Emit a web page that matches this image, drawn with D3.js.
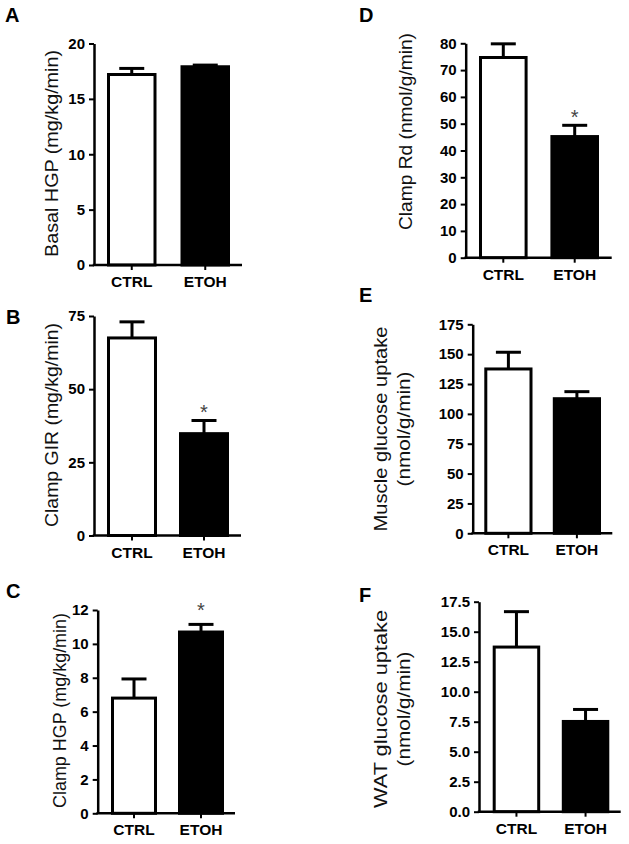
<!DOCTYPE html>
<html><head><meta charset="utf-8">
<script src="https://cdn.jsdelivr.net/npm/d3@7"></script>
<style>body{margin:0;background:#fff}svg{display:block}</style>
</head><body>
<svg id="c" width="629" height="844"></svg>
<script>
// ---------- data ----------
const categories = ["CTRL", "ETOH"];
const panelLetters = ["A", "B", "C", "D", "E", "F"];

const meansA = [17.2, 17.9],  semA = [0.55, 0.15];
const meansB = [67.5, 34.8],  semB = [5.5, 4.5];
const meansC = [6.8, 10.7],   semC = [1.13, 0.45];
const meansD = [74.7, 45.2],  semD = [5.1, 4.2];
const meansE = [137.6, 112.7], semE = [14.0, 5.9];
const meansF = [13.72, 7.52], semF = [2.95, 1.0];

const ticksA = [0, 5, 10, 15, 20];
const ticksB = [0, 25, 50, 75];
const ticksC = [0, 2, 4, 6, 8, 10, 12];
const ticksD = [0, 10, 20, 30, 40, 50, 60, 70, 80];
const ticksE = [0, 25, 50, 75, 100, 125, 150, 175];
const ticksF = [0, 2.5, 5, 7.5, 10, 12.5, 15, 17.5];

const titleA = ["Basal HGP (mg/kg/min)"];
const titleB = ["Clamp GIR (mg/kg/min)"];
const titleC = ["Clamp HGP (mg/kg/min)"];
const titleD = ["Clamp Rd (nmol/g/min)"];
const titleE = ["Muscle glucose uptake", "(nmol/g/min)"];
const titleF = ["WAT glucose uptake", "(nmol/g/min)"];

const sigA = [false, false], sigB = [false, true], sigC = [false, true];
const sigD = [false, true], sigE = [false, false], sigF = [false, false];

const fmtInt = d3.format("d"), fmtDec = d3.format(".1f");

// ---------- layout (pixels) ----------
const layout = [
  {x0: 94,    x1: 242,   y0: 265,   yTop: 43.5,  b0: 107,   b1: 230,   bw: 49.5, lx: 5,   ly: 22,
   tx: [58], ty: 153.5, tl: [207], ast: 13},
  {x0: 94,    x1: 241,   y0: 535.5, yTop: 316,   b0: 107,   b1: 229,   bw: 50,   lx: 6,   ly: 324,
   tx: [58], ty: 425, tl: [204], ast: 13},
  {x0: 97.7,  x1: 235,   y0: 813.3, yTop: 610,   b0: 111,   b1: 224,   bw: 46,   lx: 6,   ly: 598,
   tx: [66], ty: 710.5, tl: [195], ast: 19},
  {x0: 465.7, x1: 611.7, y0: 257.7, yTop: 43.3,  b0: 479,   b1: 599,   bw: 48.6, lx: 359, ly: 22,
   tx: [412], ty: 131.5, tl: [197], ast: 13},
  {x0: 472.7, x1: 612.3, y0: 533.3, yTop: 324.3, b0: 484.3, b1: 601,   bw: 48.2, lx: 359, ly: 302,
   tx: [387, 409.5], ty: 429, tl: [205, 115], ast: 13},
  {x0: 479,   x1: 620.7, y0: 811.7, yTop: 601.7, b0: 492.7, b1: 609.3, bw: 47.5, lx: 359, ly: 602,
   tx: [387, 409.5], ty: 709, tl: [198, 115], ast: 13}
];

const panels = [
  {means: meansA, sems: semA, ticks: ticksA, title: titleA, sig: sigA, fmt: fmtInt},
  {means: meansB, sems: semB, ticks: ticksB, title: titleB, sig: sigB, fmt: fmtInt},
  {means: meansC, sems: semC, ticks: ticksC, title: titleC, sig: sigC, fmt: fmtInt},
  {means: meansD, sems: semD, ticks: ticksD, title: titleD, sig: sigD, fmt: fmtInt},
  {means: meansE, sems: semE, ticks: ticksE, title: titleE, sig: sigE, fmt: fmtInt},
  {means: meansF, sems: semF, ticks: ticksF, title: titleF, sig: sigF, fmt: fmtDec}
];

const svg = d3.select("#c");
const FONT = "'Liberation Sans', Arial, Helvetica, sans-serif";

panels.forEach((p, i) => {
  const L = layout[i];
  const g = svg.append("g");
  const gap = (L.b1 - L.b0) - 2 * L.bw;
  const x = d3.scaleBand().domain(categories).range([L.b0, L.b1])
    .paddingInner(gap / (L.bw + gap)).paddingOuter(0);
  const y = d3.scaleLinear().domain([0, d3.max(p.ticks)]).range([L.y0, L.yTop]);

  // bars
  const rows = categories.map((c, k) => ({c, m: p.means[k], s: p.sems[k], sig: p.sig[k], k}));
  g.selectAll("rect.bar").data(rows).join("rect")
    .attr("x", d => x(d.c) + 1.5)
    .attr("width", x.bandwidth() - 3)
    .attr("y", d => y(d.m))
    .attr("height", d => L.y0 - y(d.m))
    .attr("fill", d => d.k === 0 ? "#fff" : "#000")
    .attr("stroke", "#000").attr("stroke-width", 3);

  // error bars
  rows.forEach(d => {
    const cx = x(d.c) + x.bandwidth() / 2;
    g.append("line").attr("x1", cx).attr("x2", cx)
      .attr("y1", y(d.m)).attr("y2", y(d.m + d.s))
      .attr("stroke", "#000").attr("stroke-width", 3);
    g.append("line").attr("x1", cx - 12.5).attr("x2", cx + 12.5)
      .attr("y1", y(d.m + d.s)).attr("y2", y(d.m + d.s))
      .attr("stroke", "#000").attr("stroke-width", 3);
    if (d.sig) {
      g.append("text").attr("x", cx).attr("y", y(d.m + d.s) - L.ast + 11.4)
        .attr("text-anchor", "middle").attr("font-family", FONT)
        .attr("font-size", 20).attr("fill", "#444").text("*");
    }
  });

  // y axis
  const ya = g.append("g").attr("transform", `translate(${L.x0},0)`)
    .call(d3.axisLeft(y).tickValues(p.ticks).tickFormat(p.fmt)
      .tickSize(5).tickSizeOuter(0).tickPadding(4));
  ya.select(".domain").attr("stroke", "#000").attr("stroke-width", 2.5);
  ya.selectAll(".tick line").attr("stroke", "#000").attr("stroke-width", 2);
  ya.selectAll(".tick text").attr("font-family", FONT).attr("font-weight", "bold")
    .attr("font-size", 15).attr("fill", "#000");

  // x axis
  const xa = g.append("g").attr("transform", `translate(0,${L.y0})`)
    .call(d3.axisBottom(x).tickSize(5).tickSizeOuter(0).tickPadding(7));
  xa.select(".domain").remove();
  xa.append("line").attr("x1", L.x0 - 1.25).attr("x2", L.x1).attr("y1", 0).attr("y2", 0)
    .attr("stroke", "#000").attr("stroke-width", 2.5);
  xa.selectAll(".tick line").attr("stroke", "#000").attr("stroke-width", 2);
  xa.selectAll(".tick text").attr("font-family", FONT).attr("font-weight", "bold")
    .attr("font-size", 15.5).attr("fill", "#000").attr("dy", null).attr("y", 22)
    .attr("dominant-baseline", "auto");

  // y title
  p.title.forEach((t, j) => {
    g.append("text")
      .attr("transform", `translate(${L.tx[j]},${L.ty}) rotate(-90)`)
      .attr("text-anchor", "middle").attr("font-family", FONT)
      .attr("font-size", 18).attr("fill", "#111")
      .attr("textLength", L.tl[j]).attr("lengthAdjust", "spacingAndGlyphs")
      .text(t);
  });

  // panel letter
  g.append("text").attr("x", L.lx).attr("y", L.ly)
    .attr("font-family", FONT).attr("font-weight", "bold").attr("font-size", 20)
    .attr("fill", "#000").text(panelLetters[i]);
});
</script>
</body></html>
